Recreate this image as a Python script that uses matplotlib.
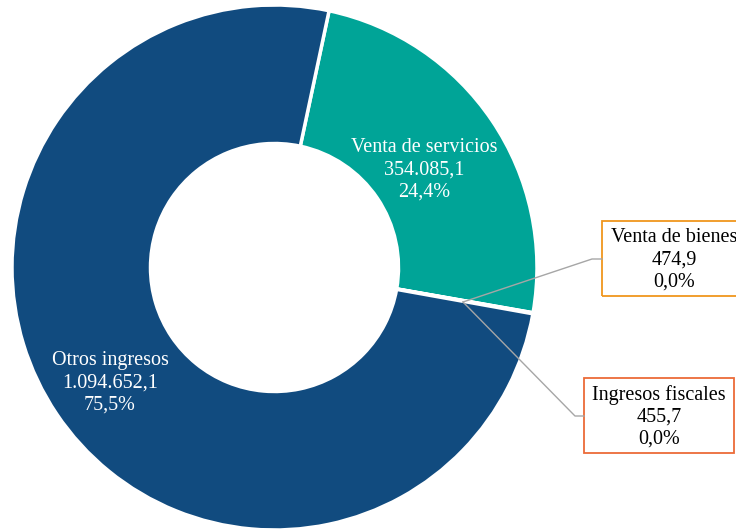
import matplotlib.pyplot as plt
from matplotlib.patches import Rectangle

plt.rcParams['font.family'] = ['Liberation Serif', 'DejaVu Serif']

labels = ["Venta de servicios", "Venta de bienes", "Ingresos fiscales", "Otros ingresos"]
values = [354085.1, 474.9, 455.7, 1094652.1]
value_text = ["354.085,1", "474,9", "455,7", "1.094.652,1"]
pct_text = ["24,4%", "0,0%", "0,0%", "75,5%"]
colors = ["#00A497", "#00A497", "#114B7F", "#114B7F"]

H = 531
fig = plt.figure(figsize=(7.36, 5.31), dpi=100)
ax = fig.add_axes([0, 0, 1, 1])

cx, cy, r = 274.5, H - 267.5, 262.5
wedges, _ = ax.pie(values, colors=colors, startangle=78, counterclock=False,
                   center=(cx, cy), radius=r, frame=True,
                   wedgeprops=dict(width=r - 124, edgecolor='white', linewidth=2.5))
ax.set_xlim(0, 736)
ax.set_ylim(0, H)
ax.set_aspect('equal')
ax.axis('off')

fs = 14.5
ls = 1.22
# labels inside the big slices
ax.text(424, H - 170, "\n".join([labels[0], value_text[0], pct_text[0]]),
        ha='center', va='center', color='white', fontsize=fs, linespacing=ls)
ax.text(110, H - 383, "\n".join([labels[3], value_text[3], pct_text[3]]),
        ha='center', va='center', color='white', fontsize=fs, linespacing=ls)

# leader lines for the tiny slices
gray = "#A6A6A6"
ax.plot([463, 592, 602], [H - 302, H - 259, H - 259], color=gray, lw=1)
ax.plot([463, 575, 584], [H - 302, H - 416, H - 416], color=gray, lw=1)

# boxed labels
ax.add_patch(Rectangle((602, H - 296), 200, 75, fill=False, edgecolor="#F0961E", lw=1.3))
ax.add_patch(Rectangle((584, H - 453), 150, 75, fill=False, edgecolor="#EC6B38", lw=1.3))
ax.text(674, H - 260, "\n".join([labels[1], value_text[1], pct_text[1]]),
        ha='center', va='center', color='black', fontsize=fs, linespacing=ls)
ax.text(659, H - 417, "\n".join([labels[2], value_text[2], pct_text[2]]),
        ha='center', va='center', color='black', fontsize=fs, linespacing=ls)

plt.savefig("out.png", dpi=100)
